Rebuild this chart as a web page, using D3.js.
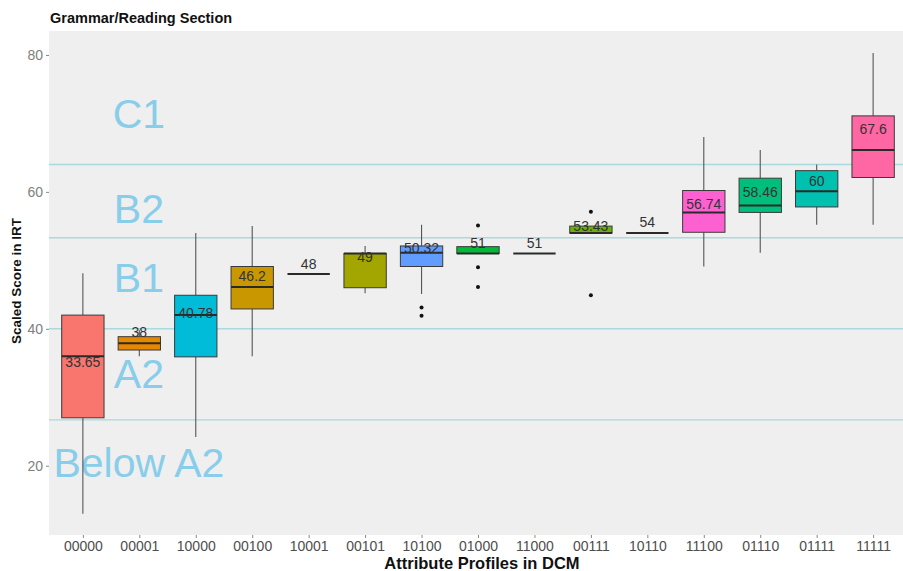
<!DOCTYPE html>
<html>
<head>
<meta charset="utf-8">
<script src="https://cdn.jsdelivr.net/npm/d3@7"></script>
<style>
  html, body { margin: 0; padding: 0; background: #ffffff; }
  svg { display: block; font-family: "Liberation Sans", Arial, Helvetica, sans-serif; }
</style>
</head>
<body>
<svg id="chart" width="903" height="571"></svg>
<script>
// Attribute profiles, in plotted order
const profiles = ["00000","00001","10000","00100","10001","00101","10100","01000","11000","00111","10110","11100","01110","01111","11111"];
// Five-number summaries of the scaled IRT score per profile
const whiskerLow  = [13.0, 36.0, 24.2, 36.0, 48, 45.2, 45.1, 51, 51, 54, 54, 49.1, 51.1, 55.2, 55.2];
const lowerQuart  = [27.0, 36.9, 35.9, 42.9, 48, 46.0, 49.1, 51, 51, 54, 54, 54.1, 57.0, 57.8, 62.1];
const medians     = [36.0, 37.9, 42.0, 46.1, 48, 51.0, 51.1, 51, 51, 54, 54, 57.0, 58.0, 60.1, 66.1];
const upperQuart  = [42.0, 38.85, 44.9, 49.1, 48, 51.0, 52.1, 52, 51, 55, 54, 60.2, 62.0, 63.1, 71.1];
const whiskerHigh = [48.1, 39.8, 54.0, 55.0, 48, 52.1, 55.2, 52, 51, 55, 54, 68.0, 66.1, 64.0, 80.3];
// Mean score labels
const means = [33.65, 38, 40.78, 46.2, 48, 49, 50.32, 51, 51, 53.43, 54, 56.74, 58.46, 60, 67.6];
// Outlying observations
const outlierProfile = ["10100","10100","01000","01000","01000","00111","00111"];
const outlierValue   = [43.1, 41.9, 55.1, 49.0, 46.1, 57.1, 44.9];
// CEFR band cut scores and band names
const cutScores  = [64, 53.3, 40, 26.7];
const bandNames  = ["C1", "B2", "B1", "A2", "Below A2"];
const bandLabelY = [71.5, 57.6, 47.6, 33.5, 20.5];
const yTicks = [20, 40, 60, 80];

// Fill colours follow the default hue palette over the alphabetically sorted profiles
const sortedProfiles = profiles.slice().sort();
const hues = ["#F8766D","#E58700","#C99800","#A3A500","#6BB100","#00BA38","#00BF7D","#00C0AF","#00BCD8","#00B0F6","#619CFF","#B983FF","#E76BF3","#FD61D1","#FF67A4"];
const color = d3.scaleOrdinal().domain(sortedProfiles).range(hues);

const svg = d3.select("#chart");
const panel = { left: 49, right: 907, top: 31, bottom: 535 };

const x = d3.scalePoint().domain(profiles).range([panel.left, panel.right]).padding(0.6);
const y = d3.scaleLinear().domain([9.88, 83.5]).range([panel.bottom, panel.top]);
const boxW = x.step() * 0.75;

// Panel background
svg.append("rect")
  .attr("x", panel.left).attr("y", panel.top)
  .attr("width", panel.right - panel.left).attr("height", panel.bottom - panel.top)
  .attr("fill", "#efefef");

const clip = svg.append("clipPath").attr("id", "panelClip")
  .append("rect")
  .attr("x", panel.left).attr("y", panel.top)
  .attr("width", panel.right - panel.left).attr("height", panel.bottom - panel.top);

const plot = svg.append("g").attr("clip-path", "url(#panelClip)");

// CEFR cut lines
plot.selectAll("line.cut").data(cutScores).join("line")
  .attr("class", "cut")
  .attr("x1", panel.left).attr("x2", panel.right)
  .attr("y1", d => y(d)).attr("y2", d => y(d))
  .attr("stroke", "#a9dadd").attr("stroke-width", 1.4);

// Band names
plot.selectAll("text.band").data(bandNames).join("text")
  .attr("class", "band")
  .attr("x", x(profiles[0]) + 56)
  .attr("y", (d, i) => y(bandLabelY[i]) + 15)
  .attr("text-anchor", "middle")
  .attr("font-size", 41)
  .attr("fill", "#88cdea")
  .text(d => d);

const rows = profiles.map((p, i) => ({
  p, lo: whiskerLow[i], q1: lowerQuart[i], med: medians[i], q3: upperQuart[i], hi: whiskerHigh[i], mean: means[i]
}));

const g = plot.selectAll("g.box").data(rows).join("g").attr("class", "box");

// Whiskers
g.append("line")
  .attr("x1", d => x(d.p)).attr("x2", d => x(d.p))
  .attr("y1", d => y(d.hi)).attr("y2", d => y(d.q3))
  .attr("stroke", "#555").attr("stroke-width", 1.1);
g.append("line")
  .attr("x1", d => x(d.p)).attr("x2", d => x(d.p))
  .attr("y1", d => y(d.q1)).attr("y2", d => y(d.lo))
  .attr("stroke", "#555").attr("stroke-width", 1.1);

// Boxes
g.append("rect")
  .attr("x", d => x(d.p) - boxW / 2)
  .attr("y", d => y(d.q3))
  .attr("width", boxW)
  .attr("height", d => Math.max(0, y(d.q1) - y(d.q3)))
  .attr("fill", d => color(d.p))
  .attr("stroke", "#3a3a3a").attr("stroke-width", 1);

// Medians
g.append("line")
  .attr("x1", d => x(d.p) - boxW / 2).attr("x2", d => x(d.p) + boxW / 2)
  .attr("y1", d => y(d.med)).attr("y2", d => y(d.med))
  .attr("stroke", "#2a2a2a").attr("stroke-width", 2);

// Outliers
plot.selectAll("circle.out").data(outlierValue).join("circle")
  .attr("class", "out")
  .attr("cx", (d, i) => x(outlierProfile[i]))
  .attr("cy", d => y(d))
  .attr("r", 2)
  .attr("fill", "#111");

// Mean labels
plot.selectAll("text.mean").data(rows).join("text")
  .attr("class", "mean")
  .attr("x", d => x(d.p))
  .attr("y", d => y(d.mean) - 5.5)
  .attr("text-anchor", "middle")
  .attr("font-size", 14)
  .attr("fill", "#333")
  .text(d => String(d.mean));

// Axes
const yAxis = svg.append("g")
  .attr("transform", `translate(${panel.left},0)`)
  .call(d3.axisLeft(y).tickValues(yTicks).tickSize(3).tickPadding(3));
yAxis.select(".domain").remove();
yAxis.selectAll(".tick line").attr("stroke", "#888");
yAxis.selectAll(".tick text").attr("font-size", 14).attr("fill", "#808080")
  .attr("font-family", "Liberation Sans, Arial, sans-serif");

const xAxis = svg.append("g")
  .attr("transform", `translate(0,${panel.bottom})`)
  .call(d3.axisBottom(x).tickSize(3).tickPadding(3));
xAxis.select(".domain").remove();
xAxis.selectAll(".tick line").attr("stroke", "#888");
xAxis.selectAll(".tick text").attr("font-size", 14).attr("fill", "#4d4d4d")
  .attr("font-family", "Liberation Sans, Arial, sans-serif");

// Titles
svg.append("text")
  .attr("x", 50).attr("y", 23)
  .attr("font-size", 14.5).attr("font-weight", "bold").attr("fill", "#111")
  .text("Grammar/Reading Section");

svg.append("text")
  .attr("x", (panel.left + panel.right) / 2 + 4).attr("y", 569)
  .attr("text-anchor", "middle")
  .attr("font-size", 16.5).attr("font-weight", "bold").attr("fill", "#111")
  .text("Attribute Profiles in DCM");

svg.append("text")
  .attr("transform", "translate(21,281) rotate(-90)")
  .attr("text-anchor", "middle")
  .attr("font-size", 13.5).attr("font-weight", "bold").attr("fill", "#111")
  .text("Scaled Score in IRT");
</script>
</body>
</html>
